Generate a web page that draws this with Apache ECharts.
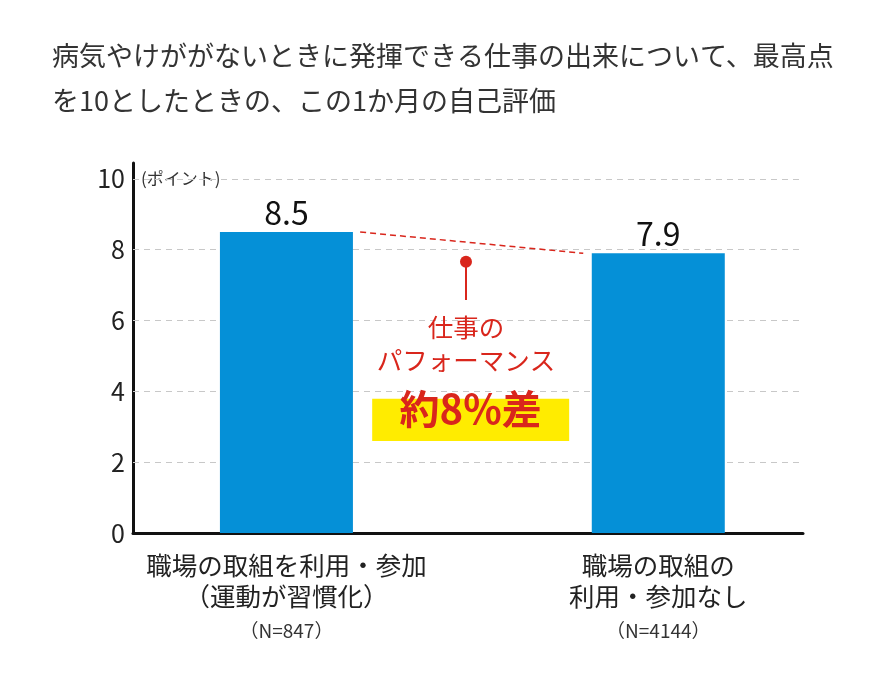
<!DOCTYPE html>
<html lang="ja">
<head>
    <meta charset="UTF-8">
    <title>自己評価</title>
    <script src="https://cdn.jsdelivr.net/npm/echarts@6/dist/echarts.min.js"></script>
    <style>
        html, body { margin: 0; padding: 0; background: #fff; }
        #chart { width: 880px; height: 674px; }
    </style>
</head>
<body>
    <div id="chart"></div>
<script>
    // データ
    var groupNames = [['職場の取組を利用・参加', '（運動が習慣化）'], ['職場の取組の', '利用・参加なし']];
    var sampleSizes = ['（N=847）', '（N=4144）'];
    var scores = [8.5, 7.9];
    var barPositions = [22.9, 78.4];     // x軸上の棒の位置 (0-100)
    var yTicks = [0, 2, 4, 6, 8, 10];
    var diffText = '約8%差';
    var noteText = '仕事の\nパフォーマンス';

    var red = '#d9261c';
    var font = '"Noto Sans CJK JP", "Noto Sans", sans-serif';

    var chart = echarts.init(document.getElementById('chart'));

    var barData = [];
    for (var i = 0; i < scores.length; i++) {
        barData.push([barPositions[i], scores[i]]);
    }

    var option = {
        textStyle: { fontFamily: font },
        title: {
            text: '病気やけががないときに発揮できる仕事の出来について、最高点\nを10としたときの、この1か月の自己評価',
            left: 52,
            top: 33,
            padding: 0,
            textStyle: { fontSize: 27, fontWeight: 'normal', color: '#333', lineHeight: 45, fontFamily: font }
        },
        grid: { left: 133, right: 77, top: 163, bottom: 141 },
        xAxis: {
            type: 'value',
            min: 0,
            max: 100,
            axisLine: { show: true, onZero: false, lineStyle: { color: '#111', width: 3 } },
            axisTick: { show: false },
            splitLine: { show: false },
            axisLabel: {
                customValues: barPositions,
                margin: 17,
                formatter: function (v) {
                    var idx = barPositions.indexOf(v);
                    if (idx < 0) return '';
                    return '{a|' + groupNames[idx][0] + '}\n{a|' + groupNames[idx][1] + '}\n{n|' + sampleSizes[idx] + '}';
                },
                rich: {
                    a: { fontSize: 25.5, lineHeight: 31, color: '#222', fontFamily: font },
                    n: { fontSize: 19, lineHeight: 37, color: '#333', fontFamily: font }
                }
            }
        },
        yAxis: {
            type: 'value',
            min: 0,
            max: 10.45,
            interval: 2,
            axisLine: { show: true, lineStyle: { color: '#111', width: 3 } },
            axisTick: { show: false },
            splitLine: { show: false },
            axisLabel: {
                fontSize: 25,
                color: '#222',
                margin: 8,
                formatter: function (v) {
                    return yTicks.indexOf(v) >= 0 ? String(v) : '';
                }
            }
        },
        graphic: [{
            type: 'text',
            left: 141,
            top: 170,
            style: { text: '(ポイント)', fontSize: 17, fill: '#333', fontFamily: font }
        }],
        series: [
            {
                // 補助線
                type: 'line',
                data: [],
                markLine: {
                    silent: true,
                    symbol: 'none',
                    z: 1,
                    label: { show: false },
                    lineStyle: { color: '#c8c8c8', type: [6, 5], width: 1.2 },
                    data: yTicks.filter(function (v) { return v > 0; }).map(function (v) { return { yAxis: v }; })
                }
            },
            {
                type: 'bar',
                data: barData,
                barWidth: 133,
                z: 2,
                itemStyle: { color: '#0590d7' },
                label: {
                    show: true,
                    position: 'top',
                    distance: 3,
                    fontSize: 32,
                    color: '#111',
                    formatter: function (p) { return p.value[1].toFixed(1); }
                },
                markLine: {
                    silent: true,
                    symbol: 'none',
                    label: { show: false },
                    lineStyle: { color: red, type: [6, 4], width: 1.5 },
                    data: [[{ coord: [33.9, scores[0]] }, { coord: [67.2, scores[1]] }]]
                }
            },
            {
                type: 'line',
                z: 3,
                symbol: 'circle',
                symbolSize: function (v, p) { return p.dataIndex === 0 ? 12 : 0; },
                itemStyle: { color: red },
                lineStyle: { color: red, width: 2 },
                data: [
                    { value: [49.7, 7.66] },
                    {
                        value: [49.7, 6.58],
                        label: {
                            show: true,
                            position: 'bottom',
                            distance: 11,
                            formatter: noteText,
                            fontSize: 25.5,
                            lineHeight: 33,
                            color: red
                        }
                    }
                ],
                markArea: {
                    silent: true,
                    itemStyle: { color: '#ffec00' },
                    label: {
                        show: true,
                        position: 'inside',
                        offset: [0, -11],
                        formatter: diffText,
                        fontSize: 40,
                        fontWeight: 'bold',
                        color: red
                    },
                    data: [[{ coord: [35.7, 2.6] }, { coord: [65.1, 3.79] }]]
                }
            }
        ]
    };

    chart.setOption(option);
</script>
</body>
</html>
